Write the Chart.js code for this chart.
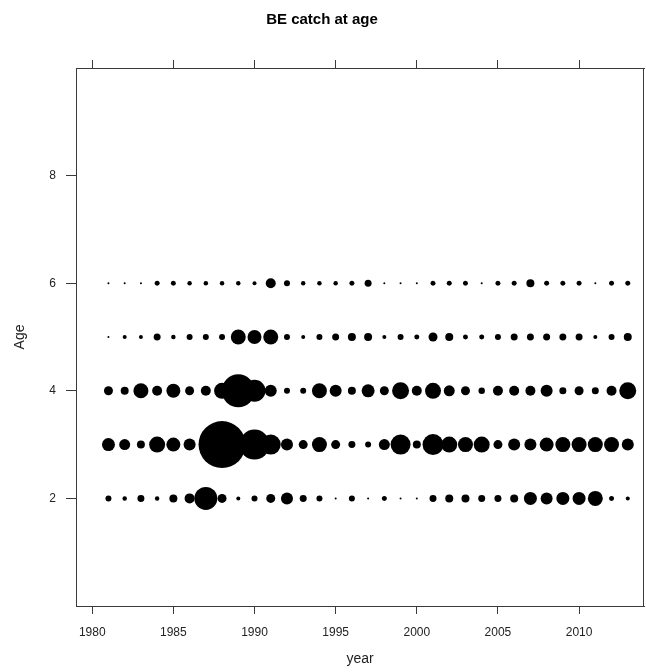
<!DOCTYPE html>
<html>
<head>
<meta charset="utf-8">
<script src="https://cdn.jsdelivr.net/npm/chart.js@4/dist/chart.umd.min.js"></script>
<style>
  html, body { margin: 0; padding: 0; background: #ffffff; }
  #wrap { width: 646px; height: 672px; }
</style>
</head>
<body>
<div id="wrap"><canvas id="c" width="646" height="672"></canvas></div>
<script>
// Catch-at-age numbers by year (relative units)
const years = [1981,1982,1983,1984,1985,1986,1987,1988,1989,1990,1991,1992,1993,1994,1995,1996,1997,
               1998,1999,2000,2001,2002,2003,2004,2005,2006,2007,2008,2009,2010,2011,2012,2013];
const ages = [2, 3, 4, 5, 6];

const catchAge2 = [360,200,490,200,640,1000,5290,810,160,360,810,1440,490,360,40,360,40,
                   250,40,40,490,640,640,490,490,640,1690,1440,1690,1690,2250,250,160];
const catchAge3 = [1690,1210,640,2560,1960,1440,1960,22090,4000,9000,4000,1440,810,2250,810,490,360,
                   1210,4000,640,4410,2560,2250,2560,810,1440,1440,1960,2250,2250,2250,2250,1440];
const catchAge4 = [810,640,2250,1000,1960,810,1000,2560,10890,4840,1440,360,360,2250,1440,640,1690,
                   810,2890,1000,2560,1210,810,420,1000,1000,1000,1440,490,810,490,1000,2890];
const catchAge5 = [40,160,160,490,200,360,360,360,2250,1960,2250,360,160,360,490,640,640,
                   160,360,250,810,640,250,250,360,490,490,490,490,490,160,360,640];
const catchAge6 = [40,40,40,250,250,200,200,200,200,160,1000,360,200,200,200,250,490,
                   40,40,40,250,250,250,40,250,250,640,250,250,250,40,250,250];

const catchByAge = [catchAge2, catchAge3, catchAge4, catchAge5, catchAge6];

const yearTicks = [1980, 1985, 1990, 1995, 2000, 2005, 2010];
const ageTicks = [2, 4, 6, 8];

// bubble area proportional to catch
const sizeScale = 0.158;
const radiusOf = v => Math.max(1, Math.sqrt(v) * sizeScale);

const datasets = ages.map((age, i) => ({
  label: 'Age ' + age,
  data: years.map((yr, j) => ({ x: yr, y: age, r: radiusOf(catchByAge[i][j]) })),
  backgroundColor: '#000000',
  borderWidth: 0,
  hoverRadius: 0
}));

const axisColor = '#3a3a3a';
const textColor = '#222222';
const font = { family: '"Liberation Sans", Arial, sans-serif', size: 12 };

// frame around the panel
const framePlugin = {
  id: 'frame',
  afterDraw(chart) {
    const { ctx, chartArea: a } = chart;
    ctx.save();
    ctx.strokeStyle = axisColor;
    ctx.lineWidth = 1;
    ctx.strokeRect(Math.round(a.left) + 0.5, Math.round(a.top) + 0.5,
                   Math.round(a.right - a.left) - 1, Math.round(a.bottom - a.top));
    ctx.restore();
  }
};

new Chart(document.getElementById('c'), {
  type: 'bubble',
  data: { datasets },
  plugins: [framePlugin],
  options: {
    responsive: false,
    animation: false,
    events: [],
    layout: { autoPadding: false, padding: { left: 0, right: 2, top: 0, bottom: 0 } },
    plugins: {
      legend: { display: false },
      tooltip: { enabled: false },
      title: {
        display: true,
        text: 'BE catch at age',
        color: '#000000',
        font: { family: '"Liberation Sans", Arial, sans-serif', size: 15, weight: 'bold' },
        padding: { top: 11, bottom: 31 }
      }
    },
    scales: {
      x: {
        type: 'linear',
        position: 'bottom',
        min: 1979,
        max: 2014,
        afterBuildTicks: s => { s.ticks = yearTicks.map(v => ({ value: v })); },
        afterFit: s => { s.height = 66; },
        ticks: { color: textColor, font, padding: 11, maxRotation: 0, callback: v => String(v) },
        grid: { drawOnChartArea: false, drawTicks: true, tickLength: 8, color: axisColor },
        border: { display: true, color: axisColor },
        title: { display: true, text: 'year', color: textColor,
                 font: { family: '"Liberation Sans", Arial, sans-serif', size: 14 },
                 padding: { top: 4, bottom: 4 } }
      },
      xTop: {
        type: 'linear',
        position: 'top',
        min: 1979,
        max: 2014,
        afterBuildTicks: s => { s.ticks = yearTicks.map(v => ({ value: v })); },
        afterFit: s => { s.height = 8; },
        ticks: { display: false },
        grid: { drawOnChartArea: false, drawTicks: true, tickLength: 8, color: axisColor },
        border: { display: true, color: axisColor }
      },
      y: {
        type: 'linear',
        position: 'left',
        min: 0,
        max: 10,
        afterBuildTicks: s => { s.ticks = ageTicks.map(v => ({ value: v })); },
        afterFit: s => { s.width = 76; },
        ticks: { color: textColor, font, padding: 10, callback: v => String(v) },
        grid: { drawOnChartArea: false, drawTicks: true, tickLength: 10, color: axisColor },
        border: { display: true, color: axisColor },
        title: { display: true, text: 'Age', color: textColor,
                 font: { family: '"Liberation Sans", Arial, sans-serif', size: 14 },
                 padding: { top: 12, bottom: 4 } }
      }
    }
  }
});
</script>
</body>
</html>
